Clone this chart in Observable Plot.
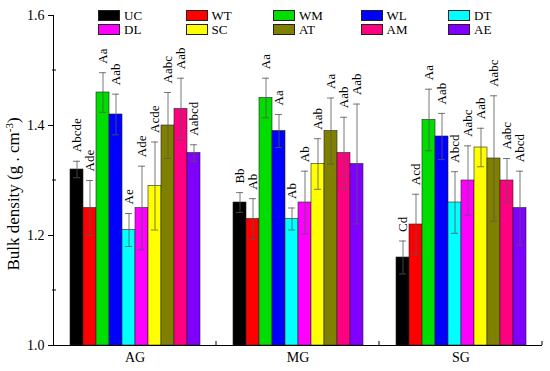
<!DOCTYPE html>
<html><head><meta charset="utf-8">
<script src="https://cdn.jsdelivr.net/npm/d3@7"></script>
<script src="https://cdn.jsdelivr.net/npm/@observablehq/plot@0.6"></script>
<style>
body{margin:0;background:#fff}
#wrap{position:relative;width:550px;height:371px;font-family:"Liberation Serif",serif}
#legend{position:absolute;left:98px;top:10px;display:grid;grid-template-columns:repeat(5,87.5px);row-gap:3px}
.item{display:flex;align-items:center;height:11px;font-size:13px;color:#000}
.sw{width:20px;height:9px;border:1px solid #222;margin-right:4px;box-sizing:content-box}
g[aria-label="y-axis tick label"] text, g[aria-label="fx-axis tick label"] text{font-size:14px}
</style></head><body><div id="wrap"><div id="legend"></div></div>
<script>
const groups = ["AG","MG","SG"];
const treatments = ["UC","WT","WM","WL","DT","DL","SC","AT","AM","AE"];
const colors = ["#000000","#ff0000","#00dd00","#0000ff","#00ffff","#ff00ff","#ffff00","#808000","#ff0080","#8000ff"];

const agMean = [1.32,1.25,1.46,1.42,1.21,1.25,1.29,1.40,1.43,1.35];
const agErr  = [0.015,0.05,0.036,0.037,0.03,0.076,0.08,0.06,0.056,0.015];
const agSig  = ["Abcde","Ade","Aa","Aab","Ae","Ade","Acde","Aabc","Aab","Aabcd"];

const mgMean = [1.26,1.23,1.45,1.39,1.23,1.26,1.33,1.39,1.35,1.33];
const mgErr  = [0.018,0.037,0.036,0.03,0.02,0.057,0.046,0.06,0.065,0.109];
const mgSig  = ["Bb","Ab","Aa","Aa","Ab","Ab","Aab","Aa","Aab","Aab"];

const sgMean = [1.16,1.22,1.41,1.38,1.26,1.30,1.36,1.34,1.30,1.25];
const sgErr  = [0.03,0.055,0.056,0.042,0.056,0.063,0.035,0.114,0.04,0.067];
const sgSig  = ["Cd","Acd","Aa","Aab","Abcd","Aabc","Aab","Aabc","Aabc","Abcd"];

const yTicks = [1.0,1.2,1.4,1.6];
const yMinor = [1.1,1.3,1.5];
const yBase = 1.0;

const series = {AG:[agMean,agErr,agSig], MG:[mgMean,mgErr,mgSig], SG:[sgMean,sgErr,sgSig]};
const rows = [];
for (const g of groups) {
  const [m,e,s] = series[g];
  treatments.forEach((t,i) => rows.push({group:g, treatment:t, mean:m[i], err:e[i], sig:s[i]}));
}

const marginLeft = 52;
const plot = Plot.plot({
  width:550, height:371, marginLeft, marginRight:7, marginTop:15, marginBottom:26,
  style:{fontFamily:"Liberation Serif, serif", fontSize:"14px", color:"#000", background:"transparent", overflow:"visible"},
  fx:{domain:groups, padding:0, label:null, tickSize:0, tickPadding:7, axis:"bottom"},
  x:{domain:treatments, axis:null, paddingInner:0, paddingOuter:1.25},
  y:{domain:[1.0,1.6], ticks:yTicks, tickFormat:d3.format(".1f"), tickSize:5, tickPadding:4, label:null, line:true},
  color:{domain:treatments, range:colors},
  marks:[
    Plot.barY(rows,{fx:"group", x:"treatment", y1:yBase, y2:"mean", fill:"treatment", stroke:"#222", strokeWidth:0.6}),
    Plot.ruleX(rows,{fx:"group", x:"treatment", y1:d=>d.mean-d.err, y2:d=>d.mean+d.err, stroke:"#555", strokeWidth:0.8}),
    Plot.tickY(rows,{fx:"group", x:"treatment", y:d=>d.mean+d.err, stroke:"#555", strokeWidth:0.8, insetLeft:3, insetRight:3}),
    Plot.tickY(rows,{fx:"group", x:"treatment", y:d=>d.mean-d.err, stroke:"#555", strokeWidth:0.8, insetLeft:3, insetRight:3}),
    Plot.text(rows,{fx:"group", x:"treatment", y:d=>d.mean+d.err, text:"sig", rotate:-90, textAnchor:"start", dy:-9, fontSize:13, fill:"#000"}),
    Plot.ruleY([yBase],{stroke:"#000", strokeWidth:1})
  ]
});
document.getElementById("wrap").appendChild(plot);

// extra axis details drawn from the plot's scales
const svg = d3.select(plot);
svg.selectAll('g[aria-label="y-axis tick label"], g[aria-label="fx-axis tick label"]').style("font-size","14px");
const ys = plot.scale("y");
const fxs = plot.scale("fx");
const g = svg.append("g").attr("stroke","#000").attr("stroke-width",1);
for (const v of yMinor) {
  const yy = ys.apply(v);
  g.append("line").attr("x1",marginLeft).attr("x2",marginLeft+4).attr("y1",yy).attr("y2",yy);
}
for (const grp of groups) {
  const xx = fxs.apply(grp) + fxs.bandwidth;
  g.append("line").attr("x1",xx).attr("x2",xx).attr("y1",ys.apply(yBase)).attr("y2",ys.apply(yBase)-4);
}
const title = svg.append("text")
  .attr("transform",`translate(19,${ys.apply(1.3)+14}) rotate(-90)`)
  .attr("text-anchor","middle").attr("font-size",17).attr("fill","#000")
  .attr("font-family","Liberation Serif, serif");
title.append("tspan").text("Bulk density (g . cm");
title.append("tspan").attr("baseline-shift","super").attr("font-size",11).text("-3");
title.append("tspan").text(")");

// legend
const leg = document.getElementById("legend");
treatments.forEach((t,i) => {
  const it = document.createElement("div"); it.className = "item";
  const sw = document.createElement("span"); sw.className = "sw"; sw.style.background = colors[i];
  const lb = document.createElement("span"); lb.textContent = t;
  it.appendChild(sw); it.appendChild(lb); leg.appendChild(it);
});
leg.style.zIndex = 2;
plot.style.position = "absolute"; plot.style.left = "0"; plot.style.top = "0";
</script></body></html>
